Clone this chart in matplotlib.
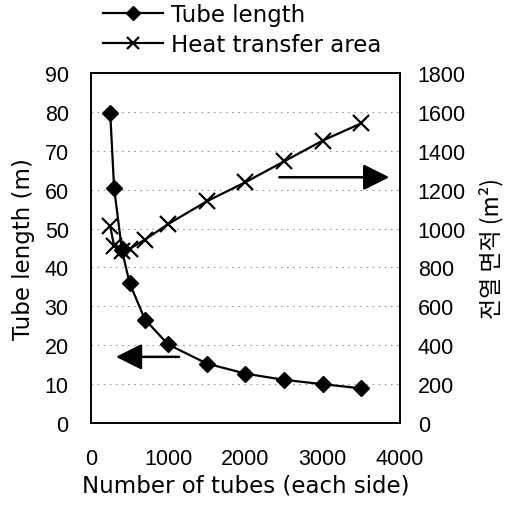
import matplotlib
matplotlib.use("Agg")
import matplotlib.pyplot as plt

# data
n_tubes = [250, 300, 400, 500, 700, 1000, 1500, 2000, 2500, 3000, 3500]
tube_length = [79.6, 60.5, 44.6, 36.0, 26.6, 20.2, 15.3, 12.7, 11.1, 10.0, 8.9]
heat_area = [1011, 909, 887, 895, 943, 1023, 1140, 1238, 1345, 1452, 1541]

tick_size = 15.5
label_size = 16.5
plt.rcParams['font.family'] = ['Liberation Sans', 'DejaVu Sans']
label_font = ['DejaVu Sans']

fig = plt.figure(figsize=(5.08, 5.10), dpi=100)
ax0 = fig.add_axes([0.179, 0.1686, 0.608, 0.6864])
ax1 = ax0.twinx()

l1, = ax0.plot(n_tubes, tube_length, color="black", lw=1.6, marker="D", ms=8.5,
               label="Tube length", zorder=3)
l2, = ax1.plot(n_tubes, heat_area, color="black", lw=1.6, marker="x", ms=11,
               mew=1.6, label="Heat transfer area", zorder=3)

ax0.set_xlim(0, 4000)
ax0.set_ylim(0, 90)
ax1.set_ylim(0, 1800)
ax0.set_xticks([0, 1000, 2000, 3000, 4000])
ax0.set_yticks(range(0, 91, 10))
ax1.set_yticks(range(0, 1801, 200))

for y in range(10, 90, 10):
	ax0.axhline(y=y, color="#9a9a9a", linestyle=(0, (1.5, 4)), linewidth=0.8, zorder=1)

for ax in (ax0, ax1):
	ax.tick_params(length=0, labelsize=tick_size)
	for sp in ax.spines.values():
		sp.set_linewidth(1.2)
ax0.tick_params(axis="x", pad=18)
ax0.tick_params(axis="y", pad=16)
ax1.tick_params(axis="y", pad=13)

ax0.set_xlabel("Number of tubes (each side)", fontsize=label_size, labelpad=3,
               family=label_font)
ax0.set_ylabel("Tube length (m)", fontsize=label_size, labelpad=7, family=label_font)
ax1.set_ylabel("전열 면적 (m²)", fontsize=16.5, labelpad=9,
               family=['Noto Sans CJK KR', 'DejaVu Sans'])

# direction arrows
arrow = dict(arrowstyle="-|>,head_length=1.6,head_width=0.8", color="black", lw=1.8)
ax0.annotate("", xy=(0.072, 0.189), xytext=(0.294, 0.189), xycoords="axes fraction",
             arrowprops=arrow)
ax0.annotate("", xy=(0.975, 0.702), xytext=(0.601, 0.702), xycoords="axes fraction",
             arrowprops=arrow)

fig.legend(handles=[l1, l2], loc="upper left", bbox_to_anchor=(103 / 508, 1 - 4 / 510),
           frameon=False, prop={'family': label_font, 'size': label_size},
           handlelength=2.6, handletextpad=0.35, labelspacing=0.3,
           borderpad=0, borderaxespad=0, markerscale=0.8)

plt.savefig("out.png", dpi=100)
